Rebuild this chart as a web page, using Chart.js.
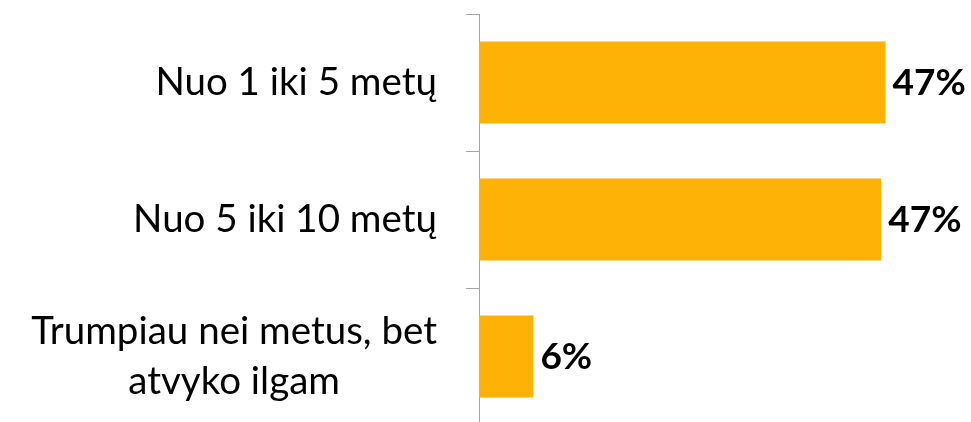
<!DOCTYPE html>
<html>
<head>
<meta charset="utf-8">
<script src="https://cdn.jsdelivr.net/npm/chart.js@4"></script>
<style>
  html, body { margin: 0; padding: 0; background: #fff; overflow: hidden; }
  #wrap { width: 971px; height: 425px; position: relative; }
</style>
</head>
<body>
<div id="wrap"><canvas id="durationChart"></canvas></div>
<script>
// Data
const categories = [
    'Nuo 1 iki 5 metų',
    'Nuo 5 iki 10 metų',
    ['Trumpiau nei metus, bet', 'atvyko ilgam']
];
const shares = [47.1, 46.6, 6.3];
const shareLabels = ['47%', '47%', '6%'];

const catFont = '38.5px Lato';
const catLineHeight = 50;
const labelGap = 42; // space between text and axis line

// Category labels: right edge at the same place, wrapped lines centred on each other
const categoryLabels = {
    id: 'categoryLabels',
    afterDraw(chart) {
        const ctx = chart.ctx;
        const yScale = chart.scales.y;
        const rightEdge = yScale.right - labelGap;
        ctx.save();
        ctx.font = catFont;
        ctx.fillStyle = '#000';
        ctx.textAlign = 'center';
        ctx.textBaseline = 'middle';
        chart.data.labels.forEach((label, i) => {
            const lines = Array.isArray(label) ? label : [label];
            const widest = Math.max(...lines.map(l => ctx.measureText(l).width));
            const cx = rightEdge - widest / 2;
            const cy = yScale.getPixelForValue(i);
            const y0 = cy - (lines.length - 1) * catLineHeight / 2;
            lines.forEach((line, j) => {
                ctx.fillText(line, cx, y0 + j * catLineHeight);
            });
        });
        ctx.restore();
    }
};

// Draws the percentage next to each bar end
const valueLabels = {
    id: 'valueLabels',
    afterDatasetsDraw(chart) {
        const ctx = chart.ctx;
        const bars = chart.getDatasetMeta(0).data;
        ctx.save();
        ctx.font = 'bold 37px Lato';
        ctx.fillStyle = '#000';
        ctx.textAlign = 'left';
        ctx.textBaseline = 'middle';
        bars.forEach((bar, i) => {
            ctx.fillText(shareLabels[i], bar.x + 7, bar.y + 1);
        });
        ctx.restore();
    }
};

const ctx = document.getElementById('durationChart').getContext('2d');
const chart = new Chart(ctx, {
    type: 'bar',
    data: {
        labels: categories,
        datasets: [{
            data: shares,
            backgroundColor: '#FDB205',
            borderWidth: 0,
            categoryPercentage: 1.0,
            barPercentage: 0.6
        }]
    },
    options: {
        indexAxis: 'y',
        responsive: true,
        maintainAspectRatio: false,
        animation: false,
        layout: { padding: { top: 14, right: 0, bottom: 0, left: 0 } },
        plugins: {
            legend: { display: false },
            tooltip: { enabled: false }
        },
        scales: {
            x: {
                display: false,
                min: 0,
                max: 57
            },
            y: {
                afterFit: (scale) => {
                    scale.width = 479;
                    scale.paddingTop = 0;
                    scale.paddingBottom = 0;
                },
                border: { display: true, color: '#a6a6a6', width: 1 },
                grid: {
                    offset: true,
                    drawOnChartArea: false,
                    drawTicks: true,
                    tickLength: 13,
                    color: '#a6a6a6'
                },
                ticks: { display: false }
            }
        }
    },
    plugins: [valueLabels, categoryLabels]
});
</script>
</body>
</html>
